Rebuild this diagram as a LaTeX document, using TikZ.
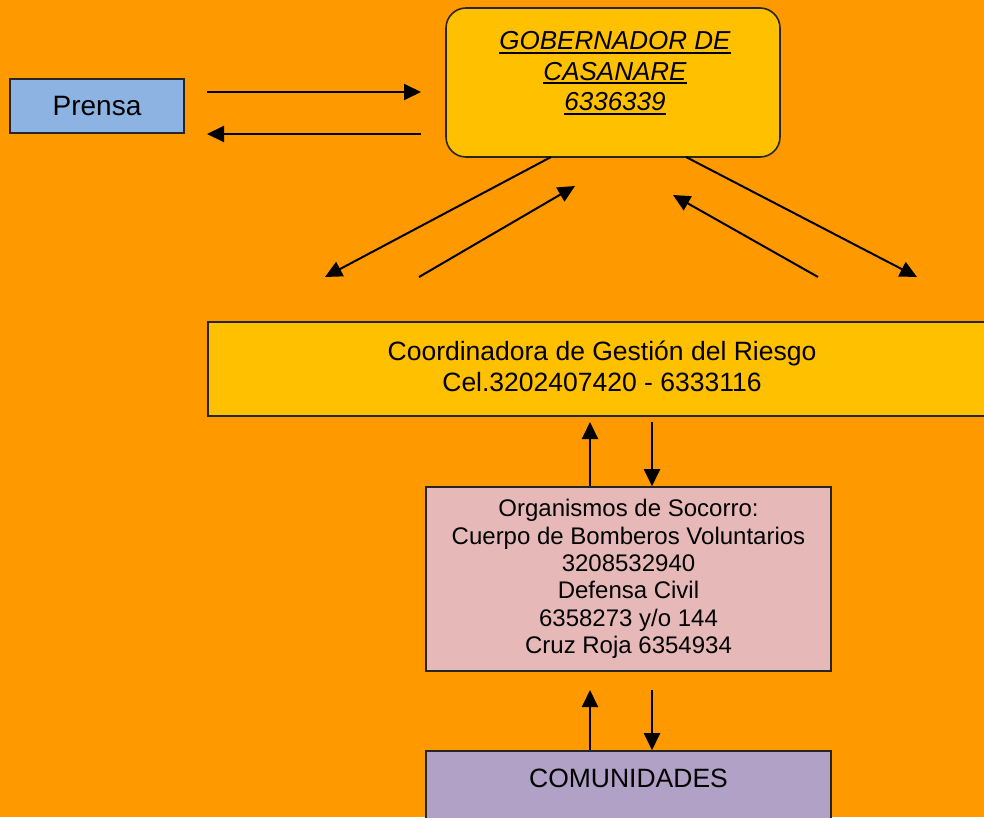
\documentclass[tikz,border=0pt]{standalone}
\usepackage{fontspec}
\setmainfont{Liberation Sans}
\usetikzlibrary{arrows.meta,calc}
\definecolor{bg}{HTML}{FF9900}
\definecolor{gold}{HTML}{FFC000}
\definecolor{prensablue}{HTML}{8DB3E2}
\definecolor{pinkbox}{HTML}{E6B9B8}
\definecolor{lilac}{HTML}{B2A1C7}
\newcommand\gul[1]{\setbox0\hbox{#1}\rlap{\rule[-4pt]{\wd0}{2.2pt}}\box0}
\begin{document}
\begin{tikzpicture}[x=1pt,y=-1pt,
  box/.style={draw=black!85, line width=1.6pt, inner sep=0pt, align=center},
  arr/.style={-{Triangle[length=17pt,width=16pt]}, line width=2pt},
  big/.style={font=\fontsize{26.5}{31}\selectfont},
  small/.style={font=\fontsize{24}{27.3}\selectfont}]
\fill[bg] (0,0) rectangle (984,817);
\useasboundingbox (0,0) rectangle (984,817);

% boxes
\node[box, fill=prensablue, minimum width=174pt, minimum height=54pt,
      font=\fontsize{28}{32}\selectfont] (prensa) at (97,106) {Prensa};
\node[box, fill=gold, rounded corners=20pt, minimum width=334pt, minimum height=149pt] (gob) at (613,82.5) {};
\node[align=center, font=\fontsize{26}{30.5}\itshape\selectfont, anchor=north] (gobtxt) at ($(gob.north)+(2,21)$)
  {\gul{GOBERNADOR DE}\\\gul{CASANARE}\\\gul{6336339}};
\node[box, fill=gold, minimum width=778pt, minimum height=94pt] (coord) at (597,369) {};
\node[big, align=center] (coordtxt) at (602,366)
  {Coordinadora de Gestión del Riesgo\\Cel.3202407420 - 6333116};
\node[box, fill=pinkbox, minimum width=405pt, minimum height=184pt, small] (org) at (628.5,579)
  {Organismos de Socorro:\\Cuerpo de Bomberos Voluntarios\\3208532940\\Defensa Civil\\6358273 y/o 144\\Cruz Roja 6354934};
\node[box, fill=lilac, minimum width=405pt, minimum height=80pt] (com) at (628.5,791) {};
\node[big, anchor=center] (comtxt) at (628.5,778) {COMUNIDADES};

% prensa arrows
\coordinate (pa1) at (207,92);
\coordinate (pa2) at (421,92);
\coordinate (pb1) at (421,134);
\coordinate (pb2) at (207,134);
\draw[arr] (pa1) -- (pa2);
\draw[arr] (pb1) -- (pb2);

% diagonal arrows
\coordinate (g1) at (551,157);
\coordinate (d1) at (325,277);
\coordinate (u1) at (419,277);
\coordinate (t1) at (575,186);
\coordinate (u2) at (818,277);
\coordinate (t2) at (673,195);
\coordinate (g2) at (686,157);
\coordinate (d2) at (917,277);
\draw[arr] (g1) -- (d1);
\draw[arr] (u1) -- (t1);
\draw[arr] (u2) -- (t2);
\draw[arr] (g2) -- (d2);

% vertical arrows
\coordinate (v1) at (590,422);
\coordinate (v2) at (652,422);
\coordinate (v3) at (590,690);
\coordinate (v4) at (652,690);
\draw[arr] (v1 |- org.north) -- (v1);
\draw[arr] (v2) -- (v2 |- org.north);
\draw[arr] (v3 |- com.north) -- (v3);
\draw[arr] (v4) -- (v4 |- com.north);
\end{tikzpicture}
\end{document}
